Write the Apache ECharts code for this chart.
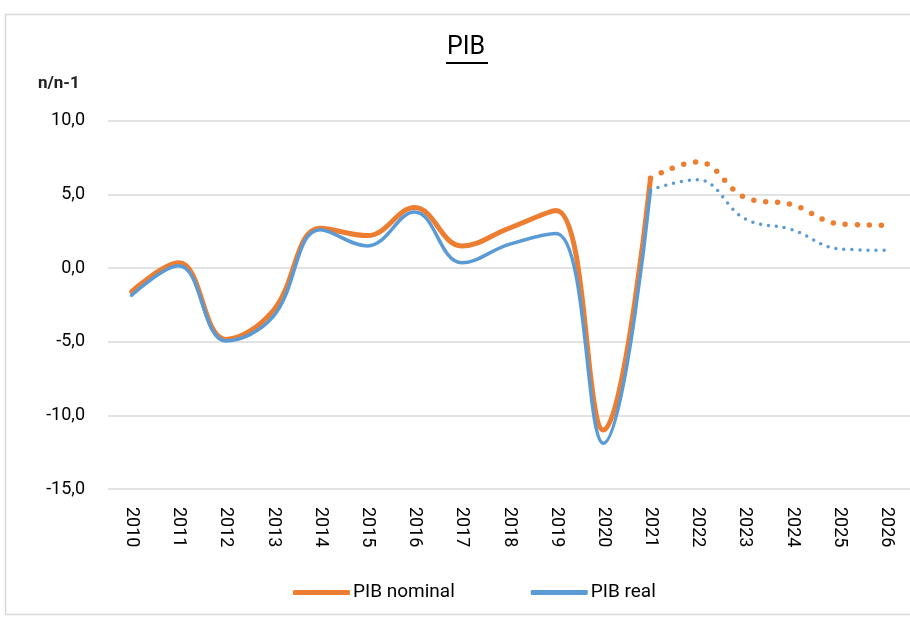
<!DOCTYPE html>
<html>
<head>
<meta charset="utf-8">
<script src="https://cdn.jsdelivr.net/npm/echarts@6/dist/echarts.min.js"></script>
<style>html,body{margin:0;padding:0;background:#fff}#c{width:910px;height:619px}</style>
</head>
<body>
<div id="c"></div>
<script>
const years = ['2010','2011','2012','2013','2014','2015','2016','2017','2018','2019','2020','2021','2022','2023','2024','2025','2026'];
const nominal = [-1.6, 0.35, -4.85, -2.9, 2.7, 2.2, 4.1, 1.5, 2.7, 3.9, -11.0, 6.1, 7.2, 4.8, 4.3, 3.0, 2.9];
const real = [-1.85, 0.15, -4.95, -3.3, 2.6, 1.5, 3.8, 0.35, 1.6, 2.35, -11.9, 5.3, 6.0, 3.35, 2.6, 1.3, 1.2];
const lastActual = 11; // index of 2021
const yTicks = [-15, -10, -5, 0, 5, 10];

function part(arr, from, to) { return arr.map((v, i) => (i >= from && i <= to) ? v : null); }

const ORANGE = '#ED7D31', BLUE = '#5B9BD5';
const FONT = 'Roboto';
const chart = echarts.init(document.getElementById('c'));
chart.setOption({
  animation: false,
  backgroundColor: '#fff',
  grid: { left: 108, top: 120.7, width: 810, height: 368.3, containLabel: false },
  xAxis: {
    type: 'category', data: years, boundaryGap: true,
    axisLine: { show: false }, axisTick: { show: false },
    axisLabel: { rotate: -90, margin: 18, color: '#000', fontFamily: FONT, fontSize: 18, interval: 0 }
  },
  yAxis: {
    type: 'value', min: yTicks[0], max: yTicks[yTicks.length - 1], interval: 5,
    axisLine: { show: false }, axisTick: { show: false },
    splitLine: { lineStyle: { color: '#d9d9d9', width: 1.5 } },
    axisLabel: { color: '#000', fontFamily: FONT, fontSize: 18, margin: 23,
      formatter: v => v.toFixed(1).replace('.', ',') }
  },
  legend: {
    data: ['PIB nominal', 'PIB real'], top: 578, left: 288, itemGap: 76,
    itemWidth: 57, itemHeight: 5, icon: 'roundRect',
    textStyle: { color: '#000', fontFamily: FONT, fontSize: 19, padding: [0, 0, 0, -2] }
  },
  graphic: [
    { type: 'rect', shape: { x: 5.5, y: 14.5, width: 1000, height: 600 }, style: { fill: 'none', stroke: '#d9d9d9', lineWidth: 1.5 }, silent: true },
    { type: 'text', left: 447, top: 35, style: { text: 'PIB', font: '25px Roboto', fill: '#000' } },
    { type: 'line', shape: { x1: 446, y1: 63, x2: 488, y2: 63 }, style: { stroke: '#000', lineWidth: 2 } },
    { type: 'text', left: 38, top: 75, style: { text: 'n/n-1', font: 'bold 17px Roboto', fill: '#222' } }
  ],
  series: [
    { name: 'PIB nominal', type: 'line', data: part(nominal, 0, lastActual), smooth: 0.4, symbol: 'none',
      color: ORANGE, lineStyle: { color: ORANGE, width: 5, cap: 'round', join: 'round' }, z: 2 },
    { name: 'PIB real', type: 'line', data: part(real, 0, lastActual), smooth: 0.4, symbol: 'none',
      color: BLUE, lineStyle: { color: BLUE, width: 3.5, cap: 'round', join: 'round' }, z: 3 },
    { name: 'PIB nominal prévision', type: 'line', data: part(nominal, lastActual, years.length - 1), smooth: 0.4, symbol: 'none',
      color: ORANGE, lineStyle: { color: ORANGE, width: 5.5, type: [0, 12], cap: 'round' }, z: 2 },
    { name: 'PIB real prévision', type: 'line', data: part(real, lastActual, years.length - 1), smooth: 0.4, symbol: 'none',
      color: BLUE, lineStyle: { color: BLUE, width: 3.5, type: [0, 8], cap: 'round' }, z: 3 }
  ]
});
</script>
</body>
</html>
